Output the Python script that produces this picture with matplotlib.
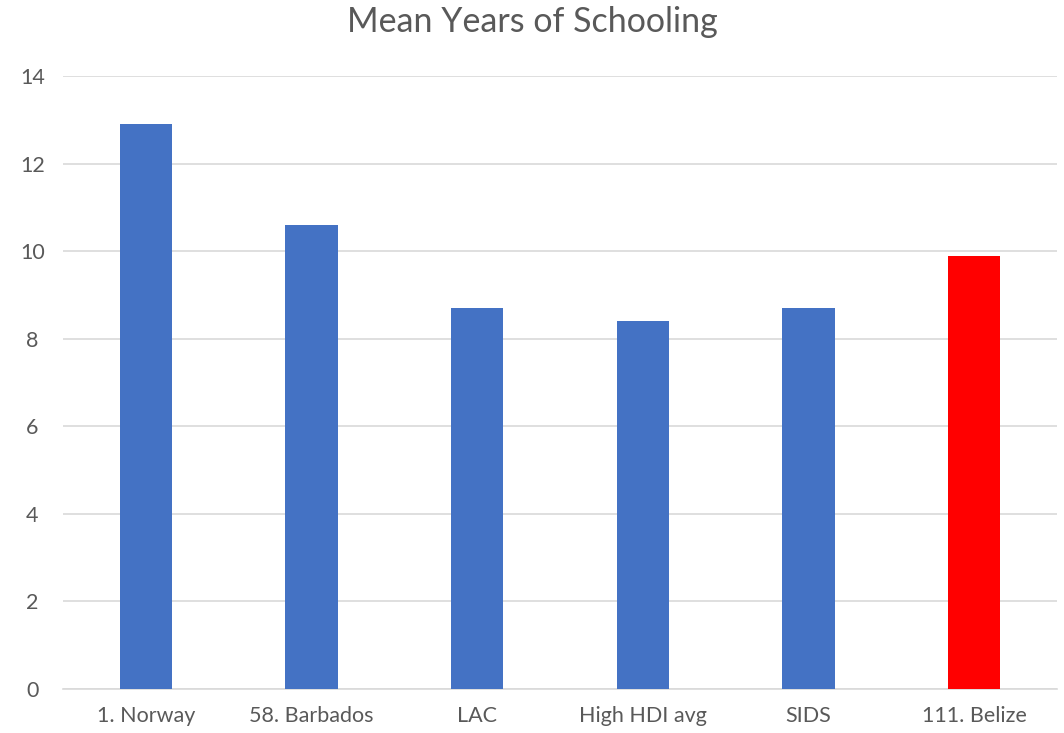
import matplotlib
matplotlib.use("Agg")
import matplotlib.pyplot as plt

categories = ["1. Norway", "58. Barbados", "LAC", "High HDI avg", "SIDS", "111. Belize"]
values = [12.9, 10.6, 8.7, 8.4, 8.7, 9.9]
colors = ["#4472C4", "#4472C4", "#4472C4", "#4472C4", "#4472C4", "#FF0000"]
yticks = [0, 2, 4, 6, 8, 10, 12, 14]

plt.rcParams["font.family"] = ["Lato", "DejaVu Sans"]
text_color = "#595959"

fig = plt.figure(figsize=(10.64, 7.33), dpi=100)
ax = fig.add_axes([63 / 1064, 44 / 733, (1057 - 63) / 1064, (689 - 76) / 733])

x = range(len(categories))
ax.bar(x, values, width=0.315, color=colors, zorder=3)

ax.set_xlim(-0.5, len(categories) - 0.5)
ax.set_ylim(0, 14)
ax.set_yticks(yticks)
ax.set_xticks(list(x))
ax.set_xticklabels(categories)

ax.grid(axis="y", color="#D9D9D9", linewidth=1.2, zorder=0)
for side in ["top", "right", "left"]:
    ax.spines[side].set_visible(False)
ax.spines["bottom"].set_color("#D9D9D9")
ax.spines["bottom"].set_linewidth(1.2)
ax.tick_params(axis="both", length=0, labelsize=15.5, labelcolor=text_color)
ax.tick_params(axis="y", pad=22)
ax.tick_params(axis="x", pad=12)
for lbl in ax.get_yticklabels():
    lbl.set_horizontalalignment("center")

fig.text(0.5, 1 - 22 / 733, "Mean Years of Schooling", ha="center", va="center",
         fontsize=24.5, color=text_color)

fig.savefig("out.png", dpi=100)
